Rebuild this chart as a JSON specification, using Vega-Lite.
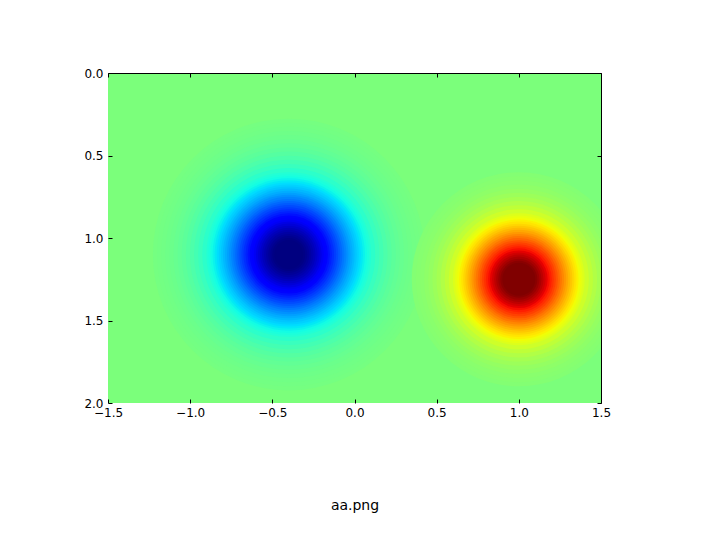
{
  "$schema": "https://vega.github.io/schema/vega-lite/v6.json",
  "width": 493,
  "height": 330,
  "autosize": {"type": "none"},
  "padding": {"left": 108, "top": 73, "right": 119, "bottom": 137},
  "background": "white",
  "config": {
    "view": {"fill": "#7bff7b", "stroke": null},
    "axis": {"labelFont": "DejaVu Sans", "titleFont": "DejaVu Sans", "labelColor": "black", "titleColor": "black", "tickColor": "black", "domainColor": "black", "grid": false}
  },
  "data": {"values": [
    {"cx": -0.4, "cy": 1.1, "r": 0.825, "v": -0.0148},
    {"cx": -0.4, "cy": 1.1, "r": 0.8, "v": -0.0192},
    {"cx": -0.4, "cy": 1.1, "r": 0.775, "v": -0.0247},
    {"cx": -0.4, "cy": 1.1, "r": 0.75, "v": -0.0314},
    {"cx": -0.4, "cy": 1.1, "r": 0.725, "v": -0.0397},
    {"cx": -0.4, "cy": 1.1, "r": 0.7, "v": -0.0498},
    {"cx": -0.4, "cy": 1.1, "r": 0.675, "v": -0.0619},
    {"cx": -0.4, "cy": 1.1, "r": 0.65, "v": -0.0763},
    {"cx": -0.4, "cy": 1.1, "r": 0.625, "v": -0.0933},
    {"cx": -0.4, "cy": 1.1, "r": 0.6, "v": -0.1133},
    {"cx": -0.4, "cy": 1.1, "r": 0.575, "v": -0.1364},
    {"cx": -0.4, "cy": 1.1, "r": 0.55, "v": -0.1628},
    {"cx": -0.4, "cy": 1.1, "r": 0.525, "v": -0.1929},
    {"cx": -0.4, "cy": 1.1, "r": 0.5, "v": -0.2178},
    {"cx": -0.4, "cy": 1.1, "r": 0.4875, "v": -0.2357},
    {"cx": -0.4, "cy": 1.1, "r": 0.475, "v": -0.2544},
    {"cx": -0.4, "cy": 1.1, "r": 0.4625, "v": -0.2741},
    {"cx": -0.4, "cy": 1.1, "r": 0.45, "v": -0.2947},
    {"cx": -0.4, "cy": 1.1, "r": 0.4375, "v": -0.3163},
    {"cx": -0.4, "cy": 1.1, "r": 0.425, "v": -0.3387},
    {"cx": -0.4, "cy": 1.1, "r": 0.4125, "v": -0.362},
    {"cx": -0.4, "cy": 1.1, "r": 0.4, "v": -0.3862},
    {"cx": -0.4, "cy": 1.1, "r": 0.3875, "v": -0.4111},
    {"cx": -0.4, "cy": 1.1, "r": 0.375, "v": -0.4367},
    {"cx": -0.4, "cy": 1.1, "r": 0.3625, "v": -0.463},
    {"cx": -0.4, "cy": 1.1, "r": 0.35, "v": -0.4899},
    {"cx": -0.4, "cy": 1.1, "r": 0.3375, "v": -0.5173},
    {"cx": -0.4, "cy": 1.1, "r": 0.325, "v": -0.5451},
    {"cx": -0.4, "cy": 1.1, "r": 0.3125, "v": -0.5733},
    {"cx": -0.4, "cy": 1.1, "r": 0.3, "v": -0.6018},
    {"cx": -0.4, "cy": 1.1, "r": 0.2875, "v": -0.6303},
    {"cx": -0.4, "cy": 1.1, "r": 0.275, "v": -0.6589},
    {"cx": -0.4, "cy": 1.1, "r": 0.2625, "v": -0.6874},
    {"cx": -0.4, "cy": 1.1, "r": 0.25, "v": -0.7157},
    {"cx": -0.4, "cy": 1.1, "r": 0.2375, "v": -0.7436},
    {"cx": -0.4, "cy": 1.1, "r": 0.225, "v": -0.7711},
    {"cx": -0.4, "cy": 1.1, "r": 0.2125, "v": -0.798},
    {"cx": -0.4, "cy": 1.1, "r": 0.2, "v": -0.8242},
    {"cx": -0.4, "cy": 1.1, "r": 0.1875, "v": -0.8495},
    {"cx": -0.4, "cy": 1.1, "r": 0.175, "v": -0.8738},
    {"cx": -0.4, "cy": 1.1, "r": 0.1625, "v": -0.897},
    {"cx": -0.4, "cy": 1.1, "r": 0.15, "v": -0.9189},
    {"cx": -0.4, "cy": 1.1, "r": 0.1375, "v": -0.9396},
    {"cx": -0.4, "cy": 1.1, "r": 0.125, "v": -0.9587},
    {"cx": -0.4, "cy": 1.1, "r": 0.1125, "v": -0.9762},
    {"cx": -0.4, "cy": 1.1, "r": 0.1, "v": -0.9921},
    {"cx": -0.4, "cy": 1.1, "r": 0.0875, "v": -1.0},
    {"cx": 1.0, "cy": 1.25, "r": 0.65, "v": 0.0189},
    {"cx": 1.0, "cy": 1.25, "r": 0.625, "v": 0.0258},
    {"cx": 1.0, "cy": 1.25, "r": 0.6, "v": 0.0349},
    {"cx": 1.0, "cy": 1.25, "r": 0.575, "v": 0.0465},
    {"cx": 1.0, "cy": 1.25, "r": 0.55, "v": 0.0612},
    {"cx": 1.0, "cy": 1.25, "r": 0.525, "v": 0.0796},
    {"cx": 1.0, "cy": 1.25, "r": 0.5, "v": 0.1022},
    {"cx": 1.0, "cy": 1.25, "r": 0.475, "v": 0.1295},
    {"cx": 1.0, "cy": 1.25, "r": 0.45, "v": 0.1622},
    {"cx": 1.0, "cy": 1.25, "r": 0.425, "v": 0.2006},
    {"cx": 1.0, "cy": 1.25, "r": 0.4, "v": 0.2334},
    {"cx": 1.0, "cy": 1.25, "r": 0.3875, "v": 0.2571},
    {"cx": 1.0, "cy": 1.25, "r": 0.375, "v": 0.2824},
    {"cx": 1.0, "cy": 1.25, "r": 0.3625, "v": 0.3092},
    {"cx": 1.0, "cy": 1.25, "r": 0.35, "v": 0.3375},
    {"cx": 1.0, "cy": 1.25, "r": 0.3375, "v": 0.3672},
    {"cx": 1.0, "cy": 1.25, "r": 0.325, "v": 0.3982},
    {"cx": 1.0, "cy": 1.25, "r": 0.3125, "v": 0.4306},
    {"cx": 1.0, "cy": 1.25, "r": 0.3, "v": 0.4641},
    {"cx": 1.0, "cy": 1.25, "r": 0.2875, "v": 0.4987},
    {"cx": 1.0, "cy": 1.25, "r": 0.275, "v": 0.5342},
    {"cx": 1.0, "cy": 1.25, "r": 0.2625, "v": 0.5704},
    {"cx": 1.0, "cy": 1.25, "r": 0.25, "v": 0.6072},
    {"cx": 1.0, "cy": 1.25, "r": 0.2375, "v": 0.6444},
    {"cx": 1.0, "cy": 1.25, "r": 0.225, "v": 0.6817},
    {"cx": 1.0, "cy": 1.25, "r": 0.2125, "v": 0.7189},
    {"cx": 1.0, "cy": 1.25, "r": 0.2, "v": 0.7557},
    {"cx": 1.0, "cy": 1.25, "r": 0.1875, "v": 0.792},
    {"cx": 1.0, "cy": 1.25, "r": 0.175, "v": 0.8274},
    {"cx": 1.0, "cy": 1.25, "r": 0.1625, "v": 0.8617},
    {"cx": 1.0, "cy": 1.25, "r": 0.15, "v": 0.8946},
    {"cx": 1.0, "cy": 1.25, "r": 0.1375, "v": 0.9259},
    {"cx": 1.0, "cy": 1.25, "r": 0.125, "v": 0.9553},
    {"cx": 1.0, "cy": 1.25, "r": 0.1125, "v": 0.9826},
    {"cx": 1.0, "cy": 1.25, "r": 0.1, "v": 1.0}
  ]},
  "layer": [
    {
      "mark": {"type": "point", "shape": "circle", "filled": true, "opacity": 1, "strokeWidth": 0, "clip": true},
      "encoding": {
        "x": {"field": "cx", "type": "quantitative",
              "scale": {"domain": [-1.5, 1.5], "nice": false, "zero": false},
              "axis": {"orient": "bottom", "values": [-1.5, -1, -0.5, 0, 0.5, 1, 1.5], "format": ".1f",
                       "tickSize": -4, "labelPadding": 8, "domain": false, "labelFontSize": 12,
                       "labelFlush": false, "labelOverlap": false,
                       "title": "aa.png", "titleFontSize": 14, "titleFontWeight": "normal", "titlePadding": 80}},
        "y": {"field": "cy", "type": "quantitative",
              "scale": {"domain": [0, 2], "reverse": true, "nice": false, "zero": false},
              "axis": {"orient": "left", "values": [0, 0.5, 1, 1.5, 2], "format": ".1f",
                       "tickSize": -4, "labelPadding": 9, "domain": false, "labelFontSize": 12,
                       "labelFlush": false, "labelOverlap": false, "title": null}},
        "size": {"field": "r", "type": "quantitative", "legend": null,
                 "scale": {"type": "pow", "exponent": 2, "domain": [0, 1], "range": [0, 108500]}},
        "color": {"field": "v", "type": "quantitative", "legend": null,
                  "scale": {"type": "linear", "interpolate": "rgb",
                            "domain": [-1, -0.78, -0.75, -0.32, -0.3, -0.25, 0, 0.28, 0.3, 0.32, 0.78, 0.82, 1],
                            "range": ["#000080", "#0000ff", "#0000ff", "#00dbff", "#00e6f7", "#15ffe2", "#7bff7b", "#efff08", "#f7f600", "#ffec00", "#ff1300", "#e80000", "#800000"]}},
        "order": {"field": "r", "type": "quantitative", "sort": "descending"}
      }
    },
    {
      "mark": {"type": "point", "opacity": 0},
      "encoding": {
        "x": {"field": "cx", "type": "quantitative",
              "axis": {"orient": "top", "values": [-1.5, -1, -0.5, 0, 0.5, 1, 1.5], "labels": false,
                       "tickSize": -4, "domain": true, "domainWidth": 1, "title": null}},
        "y": {"field": "cy", "type": "quantitative",
              "axis": {"orient": "right", "values": [0, 0.5, 1, 1.5, 2], "labels": false,
                       "tickSize": -4, "domain": true, "domainWidth": 1, "title": null}}
      }
    }
  ],
  "resolve": {"axis": {"x": "independent", "y": "independent"}}
}
